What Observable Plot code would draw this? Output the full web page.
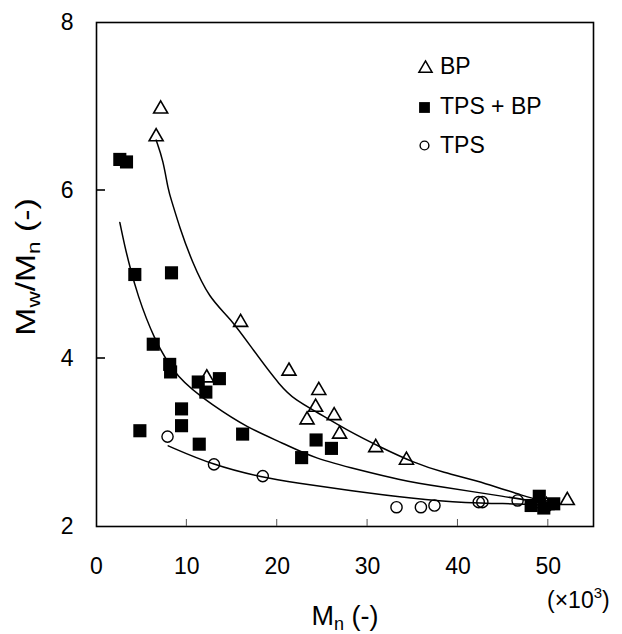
<!DOCTYPE html>
<html><head><meta charset="utf-8">
<script src="https://cdn.jsdelivr.net/npm/d3@7"></script>
<script src="https://cdn.jsdelivr.net/npm/@observablehq/plot@0.6"></script>
<style>body{margin:0;background:#fff}</style>
</head><body><div id="chart"></div><script>
// Series points [Mn (x10^3), Mw/Mn]
const bpPoints = [[7.1,6.97],[6.6,6.64],[15.95,4.43],[21.3,3.85],[12.2,3.77],[24.6,3.62],[24.25,3.42],[23.3,3.27],[26.3,3.32],[26.9,3.10],[30.9,2.94],[34.3,2.79],[49.8,2.25],[52.1,2.31]];
const tpsbpPoints = [[2.58,6.37],[3.32,6.34],[4.24,5.0],[8.3,5.02],[6.28,4.17],[8.1,3.93],[8.2,3.84],[11.26,3.72],[12.1,3.6],[13.6,3.76],[9.41,3.40],[9.41,3.20],[4.8,3.14],[11.37,2.98],[16.17,3.10],[24.3,3.03],[26.0,2.93],[22.7,2.82],[49.0,2.36],[48.1,2.25],[50.6,2.27],[49.5,2.22]];
const tpsPoints = [[7.86,3.07],[13.0,2.74],[18.4,2.60],[33.2,2.23],[35.9,2.23],[37.4,2.25],[42.3,2.29],[42.7,2.29],[46.6,2.31],[48.8,2.29],[49.8,2.24]];
// Fitted curves
const bpCurve = [[6.6,6.6],[7.38,6.36],[7.94,6.0],[8.31,5.88],[9.2,5.56],[10.5,5.17],[12.5,4.71],[14.76,4.49],[17.35,4.10],[20.4,3.66],[22.1,3.5],[24.1,3.38],[27.8,3.14],[31.5,2.94],[35.1,2.76],[38.1,2.65],[43.3,2.51],[47,2.37],[50.5,2.27]];
const tpsbpCurve = [[2.58,5.62],[3.14,5.33],[3.7,5.09],[4.5,4.77],[6.27,4.25],[8.86,3.76],[12.9,3.44],[16.6,3.18],[20.7,2.99],[24.1,2.81],[29.2,2.67],[33.3,2.56],[38.1,2.47],[45.1,2.36],[50.5,2.26]];
const tpsCurve = [[7.94,2.96],[12.9,2.73],[18.5,2.58],[22.1,2.52],[27.8,2.43],[35.1,2.33],[40.7,2.28],[47,2.27],[50.3,2.25]];
const xTicks = [0,10,20,30,40,50];
const xInnerTicks = [10,20,30,40,50];
const yTicks = [2,4,6,8];
const yInnerTicks = [4,6];
const legendLabels = ["BP","TPS + BP","TPS"];

const font = "Arial, 'Liberation Sans', Helvetica, sans-serif";
const chart = Plot.plot({
  width: 622, height: 634,
  marginLeft: 96, marginRight: 29, marginTop: 22, marginBottom: 108,
  style: {fontFamily: font, fontSize: "23px", color: "black", background: "white"},
  x: {domain: [0,55]},
  y: {domain: [2,8]},
  marks: [
    Plot.axisX({ticks: xTicks, tickSize: 0, tickPadding: 31, label: null, fontSize: 23, tickFormat: d => String(d)}),
    Plot.axisY({ticks: yTicks, tickSize: 0, tickPadding: 23, label: null, fontSize: 23, tickFormat: d => String(d)}),
    Plot.line(bpCurve, {x: d => d[0], y: d => d[1], stroke: "black", strokeWidth: 1.5, curve: "basis"}),
    Plot.line(tpsbpCurve, {x: d => d[0], y: d => d[1], stroke: "black", strokeWidth: 1.5, curve: "basis"}),
    Plot.line(tpsCurve, {x: d => d[0], y: d => d[1], stroke: "black", strokeWidth: 1.5, curve: "basis"}),
    Plot.dot(bpPoints, {x: d => d[0], y: d => d[1], symbol: "triangle", r: 5.2, stroke: "black", strokeWidth: 1.6, fill: "none"}),
    Plot.dot(tpsbpPoints, {x: d => d[0], y: d => d[1], symbol: "square", r: 7.4, fill: "black", stroke: "none"}),
    Plot.dot(tpsPoints, {x: d => d[0], y: d => d[1], symbol: "circle", r: 5.6, stroke: "black", strokeWidth: 1.4, fill: "none"}),
    // legend symbols
    Plot.dot([legendLabels[0]], {frameAnchor: "top-left", dx: 329, dy: 46, symbol: "triangle", r: 4.9, stroke: "black", strokeWidth: 1.5, fill: "none"}),
    Plot.dot([legendLabels[1]], {frameAnchor: "top-left", dx: 328, dy: 85, symbol: "square", r: 6.1, fill: "black", stroke: "none"}),
    Plot.dot([legendLabels[2]], {frameAnchor: "top-left", dx: 328, dy: 123, symbol: "circle", r: 4.4, stroke: "black", strokeWidth: 1.4, fill: "none"}),
    Plot.frame({stroke: "black", strokeWidth: 1.6})
  ]
});
document.getElementById("chart").appendChild(chart);

const svg = d3.select(chart);
const sx = chart.scale("x"), sy = chart.scale("y");
const [yBottom] = sy.range;
const [xLeft] = sx.range;
// inward ticks
xInnerTicks.forEach(t => {
  const px = sx.apply(t);
  svg.append("line").attr("x1", px).attr("x2", px).attr("y1", yBottom).attr("y2", yBottom - 7)
    .attr("stroke", "#555").attr("stroke-width", 1);
});
yInnerTicks.forEach(t => {
  const py = sy.apply(t);
  svg.append("line").attr("x1", xLeft).attr("x2", xLeft + 9).attr("y1", py).attr("y2", py)
    .attr("stroke", "black").attr("stroke-width", 1.6);
});
// legend labels (real text)
const offsets = [44, 84, 123];
legendLabels.forEach((t, i) => {
  svg.append("text").attr("x", 96 + 344).attr("y", 22 + offsets[i]).attr("dy", "0.35em")
    .attr("text-anchor", "start").attr("font-family", font).attr("font-size", 23).attr("fill", "black").text(t);
});
// x multiplier
const mult = svg.append("text").attr("x", 547).attr("y", 608).attr("text-anchor", "start")
  .attr("font-family", font).attr("font-size", 23).attr("fill", "black");
mult.append("tspan").text("(×10");
mult.append("tspan").attr("font-size", 15).attr("dy", -10).text("3");
mult.append("tspan").attr("dy", 10).text(")");
// x label
const xl = svg.append("text").attr("x", 345).attr("y", 625).attr("text-anchor", "middle")
  .attr("font-family", font).attr("font-size", 27).attr("fill", "black");
xl.append("tspan").text("M");
xl.append("tspan").attr("font-size", 18).attr("dy", 5).text("n");
xl.append("tspan").attr("dy", -5).text(" (-)");
// y label
const yl = svg.append("text").attr("transform", "translate(35,267) rotate(-90) scale(1.25,1)").attr("text-anchor", "middle")
  .attr("font-family", font).attr("font-size", 27).attr("fill", "black");
yl.append("tspan").text("M");
yl.append("tspan").attr("font-size", 18).attr("dy", 5).text("w");
yl.append("tspan").attr("dy", -5).text("/M");
yl.append("tspan").attr("font-size", 18).attr("dy", 5).text("n");
yl.append("tspan").attr("dy", -5).text(" (-)");
</script></body></html>
